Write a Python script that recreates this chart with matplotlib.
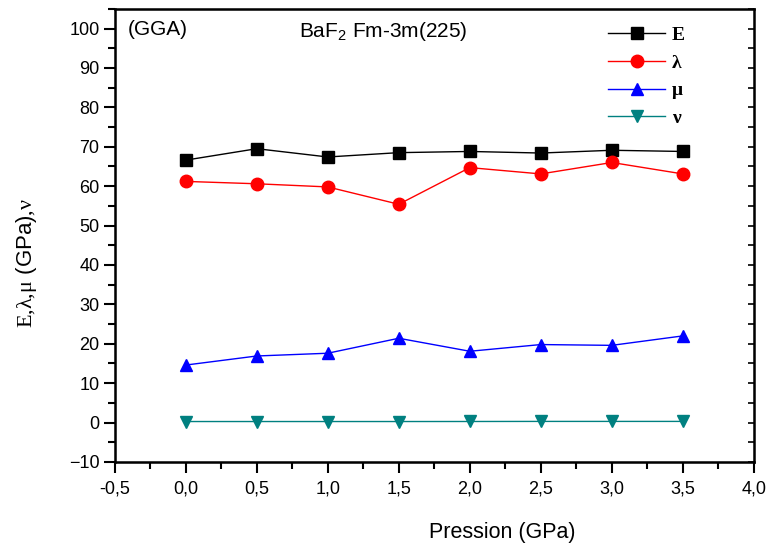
import matplotlib
matplotlib.use('Agg')
import matplotlib.pyplot as plt
from matplotlib.ticker import MultipleLocator, FuncFormatter

plt.rcParams['font.family'] = ['Liberation Sans', 'DejaVu Sans']
plt.rcParams['mathtext.fontset'] = 'custom'
plt.rcParams['mathtext.rm'] = 'Liberation Serif'
plt.rcParams['mathtext.sf'] = 'Liberation Sans'

# elastic constants of BaF2 vs pressure
pression = [0.0, 0.5, 1.0, 1.5, 2.0, 2.5, 3.0, 3.5]
E_vals = [66.6, 69.5, 67.4, 68.5, 68.8, 68.4, 69.1, 68.8]
lambda_vals = [61.2, 60.6, 59.8, 55.4, 64.7, 63.1, 66.0, 63.1]
mu_vals = [14.6, 16.9, 17.6, 21.4, 18.1, 19.8, 19.6, 22.0]
nu_vals = [0.27, 0.27, 0.27, 0.27, 0.28, 0.30, 0.30, 0.30]

fig = plt.figure(figsize=(7.7, 5.5), dpi=100)
ax = fig.add_axes([0.149, 0.16, 0.83, 0.824])

ax.plot(pression, E_vals, color='black', lw=1, marker='s', ms=8, label='E')
ax.plot(pression, lambda_vals, color='red', lw=1, marker='o', ms=9, label='λ')
ax.plot(pression, mu_vals, color='blue', lw=1, marker='^', ms=9, label='μ')
ax.plot(pression, nu_vals, color='#008080', lw=1, marker='v', ms=9, label='ν')

ax.set_xlim(-0.5, 4.0)
ax.set_ylim(-10, 105)
ax.xaxis.set_major_locator(MultipleLocator(0.5))
ax.xaxis.set_minor_locator(MultipleLocator(0.25))
ax.yaxis.set_major_locator(MultipleLocator(10))
ax.yaxis.set_minor_locator(MultipleLocator(5))
ax.xaxis.set_major_formatter(FuncFormatter(lambda v, p: '{:.1f}'.format(v).replace('.', ',')))
ax.tick_params(which='major', length=8, width=1.5, direction='out', labelsize=13, colors='black')
ax.tick_params(which='minor', length=5, width=1.5, direction='out')
ax.tick_params(axis='y', pad=3)
ax.tick_params(axis='x', pad=5)
for s in ax.spines.values():
    s.set_linewidth(1.8)

# inward ticks on the right border
ax2 = ax.twinx()
ax2.set_ylim(ax.get_ylim())
ax2.yaxis.set_major_locator(MultipleLocator(10))
ax2.yaxis.set_minor_locator(MultipleLocator(5))
ax2.tick_params(which='both', direction='in', length=4, width=1.2, labelright=False)

ax.set_xlabel('Pression (GPa)', fontsize=15.5)
ax.xaxis.set_label_coords(0.606, -0.132)
ax.set_ylabel(r'$\mathrm{E{,}λ{,}μ}$ (GPa)$\mathrm{{,}ν}$', fontsize=16)
ax.yaxis.set_label_coords(-0.118, 0.44)

ax.text(0.02, 0.975, '(GGA)', transform=ax.transAxes, fontsize=15, va='top')
ax.text(0.288, 0.975, r'BaF$_\mathsf{2}$ Fm-3m(225)', transform=ax.transAxes, fontsize=15, va='top')

ax.legend(loc='upper left', bbox_to_anchor=(0.745, 1.0), frameon=False, handlelength=2.9,
          labelspacing=0.52, handletextpad=0.35,
          prop={'family': 'Liberation Serif', 'weight': 'bold', 'size': 14})

fig.savefig('out.png', dpi=100)
